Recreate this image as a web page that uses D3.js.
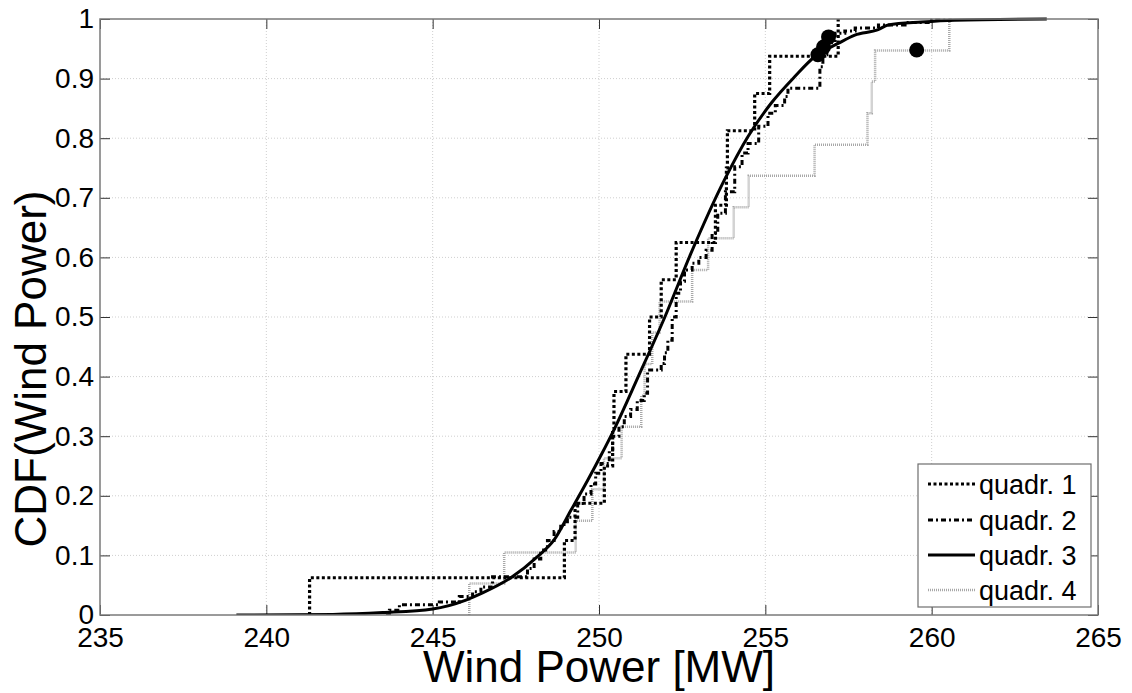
<!DOCTYPE html>
<html>
<head>
<meta charset="utf-8">
<script src="https://cdn.jsdelivr.net/npm/d3@7"></script>
<style>
  html, body { margin: 0; padding: 0; background: #ffffff; }
  svg { display: block; }
  text { font-family: "Liberation Sans", Arial, Helvetica, sans-serif; fill: #000; }
</style>
</head>
<body>
<svg id="chart" width="1132" height="693"></svg>
<script>
// ---------------- data ----------------
const xTicks = [235, 240, 245, 250, 255, 260, 265];
const yTicks = [0, 0.1, 0.2, 0.3, 0.4, 0.5, 0.6, 0.7, 0.8, 0.9, 1];
const yTickLabels = ["0", "0.1", "0.2", "0.3", "0.4", "0.5", "0.6", "0.7", "0.8", "0.9", "1"];
const seriesNames = ["quadr. 1", "quadr. 2", "quadr. 3", "quadr. 4"];

// quadr. 1 : empirical CDF (jump positions and levels)
const q1X = [241.3, 241.3, 248.96, 249.28, 250.16, 250.41, 250.45, 250.81, 251.52, 251.87, 252.32, 253.5, 253.83, 253.86, 254.68, 255.13, 257.19];
const q1Y = [0, 0.0625, 0.125, 0.1875, 0.25, 0.3125, 0.375, 0.4375, 0.5, 0.5625, 0.625, 0.6875, 0.75, 0.8125, 0.875, 0.9375, 1];

// quadr. 2 : empirical CDF (traced)
const q2X = [243.6, 243.7, 244.0, 245.2, 245.8, 246.2, 246.45, 246.8, 247.85, 248.05, 248.25, 248.45, 248.65, 248.85, 249.05, 249.36, 249.55, 249.76, 249.9, 250.06, 250.31, 250.41, 250.6, 250.76, 250.95, 251.15, 251.36, 251.46, 251.87, 251.97, 252.07, 252.2, 252.32, 252.45, 252.57, 252.8, 253.0, 253.22, 253.4, 253.57, 253.8, 254.08, 254.3, 254.48, 254.8, 255.08, 255.3, 255.58, 255.68, 256.64, 256.73, 256.85, 257.1, 257.39, 257.7, 258.4, 259.2, 260.0, 260.6];
const q2Y = [0, 0.008, 0.017, 0.022, 0.031, 0.039, 0.047, 0.064, 0.078, 0.094, 0.109, 0.125, 0.14, 0.152, 0.164, 0.187, 0.203, 0.22, 0.238, 0.254, 0.277, 0.3, 0.316, 0.333, 0.345, 0.36, 0.372, 0.411, 0.422, 0.44, 0.461, 0.5, 0.54, 0.56, 0.579, 0.59, 0.6, 0.612, 0.64, 0.674, 0.71, 0.752, 0.775, 0.791, 0.82, 0.842, 0.855, 0.87, 0.884, 0.92, 0.94, 0.96, 0.976, 0.98, 0.985, 0.99, 0.994, 0.998, 0.998];

// quadr. 3 : fitted CDF (traced)
const q3X = [239.1, 242.0, 243.5, 245.0, 246.0, 246.5, 247.35, 248.15, 248.65, 249.16, 249.66, 250.06, 250.46, 251.18, 251.98, 252.75, 253.77, 254.48, 255.18, 255.88, 256.49, 257.19, 257.69, 258.39, 258.69, 259.7, 260.7, 263.46];
const q3Y = [0, 0.001, 0.004, 0.01, 0.025, 0.037, 0.0625, 0.098, 0.126, 0.176, 0.226, 0.268, 0.312, 0.40, 0.5, 0.605, 0.73, 0.803, 0.859, 0.903, 0.937, 0.959, 0.973, 0.982, 0.99, 0.995, 0.998, 1.0];

// quadr. 4 : empirical CDF (jump positions and levels)
const q4X = [246.1, 246.1, 247.15, 249.3, 249.8, 250.15, 250.68, 251.27, 251.37, 251.6, 251.82, 252.8, 253.28, 254.05, 254.5, 256.48, 258.07, 258.2, 258.3, 260.53];
const q4Y = [0, 0.053, 0.105, 0.158, 0.211, 0.263, 0.316, 0.368, 0.421, 0.474, 0.526, 0.579, 0.632, 0.684, 0.737, 0.789, 0.842, 0.895, 0.947, 1.0];

// highlighted points
const mX = [256.58, 256.75, 256.9, 259.55];
const mY = [0.94, 0.953, 0.97, 0.948];

// ---------------- drawing ----------------
const svg = d3.select("#chart");
const plot = { left: 100, top: 19, right: 1098, bottom: 615 };
const x = d3.scaleLinear().domain([235, 265]).range([plot.left, plot.right]);
const y = d3.scaleLinear().domain([0, 1]).range([plot.bottom, plot.top]);

svg.append("rect").attr("width", 1132).attr("height", 693).attr("fill", "#ffffff");

// grid
const grid = svg.append("g");
grid.selectAll("line.gx").data(xTicks.slice(1, -1)).enter().append("line")
  .attr("x1", d => x(d)).attr("x2", d => x(d))
  .attr("y1", plot.top).attr("y2", plot.bottom)
  .attr("stroke", "#cfcfcf").attr("stroke-width", 1).attr("stroke-dasharray", "1,2");
grid.selectAll("line.gy").data(yTicks.slice(1, -1)).enter().append("line")
  .attr("y1", d => y(d)).attr("y2", d => y(d))
  .attr("x1", plot.left).attr("x2", plot.right)
  .attr("stroke", "#cfcfcf").attr("stroke-width", 1).attr("stroke-dasharray", "1,2");

// axes (ticks inward)
const tickLen = 10;
const xAxis = d3.axisBottom(x).tickValues(xTicks).tickSize(-tickLen).tickPadding(12).tickFormat(d3.format("d"));
const yAxis = d3.axisLeft(y).tickValues(yTicks).tickSize(-tickLen).tickPadding(6).tickFormat((d, i) => yTickLabels[i]);
const xTop = d3.axisTop(x).tickValues(xTicks).tickSize(-tickLen).tickFormat("");
const yRight = d3.axisRight(y).tickValues(yTicks).tickSize(-tickLen).tickFormat("");

function styleAxis(g) {
  g.select(".domain").remove();
  g.selectAll(".tick line").attr("stroke", "#333").attr("stroke-width", 1);
  g.selectAll(".tick text").attr("font-size", 28).attr("font-family", "'Liberation Sans', Arial, sans-serif").attr("fill", "#000");
}
svg.append("g").attr("transform", `translate(0,${plot.bottom})`).call(xAxis).call(styleAxis);
svg.append("g").attr("transform", `translate(${plot.left},0)`).call(yAxis).call(styleAxis);
svg.append("g").attr("transform", `translate(0,${plot.top})`).call(xTop).call(styleAxis);
svg.append("g").attr("transform", `translate(${plot.right},0)`).call(yRight).call(styleAxis);

// clip
svg.append("clipPath").attr("id", "clip").append("rect")
  .attr("x", plot.left).attr("y", plot.top - 2)
  .attr("width", plot.right - plot.left).attr("height", plot.bottom - plot.top + 2);

const layer = svg.append("g").attr("clip-path", "url(#clip)");
const stepLine = d3.line().x(d => x(d[0])).y(d => y(d[1])).curve(d3.curveStepAfter);
const smoothLine = d3.line().x(d => x(d[0])).y(d => y(d[1])).curve(d3.curveMonotoneX);

const styles = [
  { color: "#000", width: 3.2, dash: "3,2.5" },
  { color: "#000", width: 3, dash: "5,3,2,3" },
  { color: "#000", width: 3, dash: null },
  { color: "#a8a8a8", width: 2.5, dash: "1,1" }
];

layer.append("path").datum(d3.zip(q4X, q4Y)).attr("d", stepLine)
  .attr("fill", "none").attr("stroke", styles[3].color).attr("stroke-width", styles[3].width).attr("stroke-dasharray", styles[3].dash);
layer.append("path").datum(d3.zip(q1X, q1Y)).attr("d", stepLine)
  .attr("fill", "none").attr("stroke", styles[0].color).attr("stroke-width", styles[0].width).attr("stroke-dasharray", styles[0].dash);
layer.append("path").datum(d3.zip(q2X, q2Y)).attr("d", stepLine)
  .attr("fill", "none").attr("stroke", styles[1].color).attr("stroke-width", styles[1].width).attr("stroke-dasharray", styles[1].dash);
layer.append("path").datum(d3.zip(q3X, q3Y)).attr("d", smoothLine)
  .attr("fill", "none").attr("stroke", styles[2].color).attr("stroke-width", styles[2].width);

// markers
svg.append("g").selectAll("circle").data(d3.zip(mX, mY)).enter().append("circle")
  .attr("cx", d => x(d[0])).attr("cy", d => y(d[1])).attr("r", 7.5).attr("fill", "#000");

// frame
svg.append("rect").attr("x", plot.left).attr("y", plot.top)
  .attr("width", plot.right - plot.left).attr("height", plot.bottom - plot.top)
  .attr("fill", "none").attr("stroke", "#7a7a7a").attr("stroke-width", 1.5);

// axis labels
svg.append("text").attr("x", 599).attr("y", 682)
  .attr("text-anchor", "middle").attr("font-size", 44).text("Wind Power [MW]");
svg.append("text").attr("transform", `translate(46,369) rotate(-90)`)
  .attr("text-anchor", "middle").attr("font-size", 44).text("CDF(Wind Power)");

// legend
const lg = svg.append("g");
const lgBox = { x: 918, y: 464, w: 173, h: 143 };
lg.append("rect").attr("x", lgBox.x).attr("y", lgBox.y).attr("width", lgBox.w).attr("height", lgBox.h)
  .attr("fill", "#fff").attr("stroke", "#6e6e6e").attr("stroke-width", 1.2);
const rowY = [484, 520, 555, 590];
seriesNames.forEach((name, i) => {
  const s = styles[i];
  const ln = lg.append("line").attr("x1", 928).attr("x2", 975).attr("y1", rowY[i]).attr("y2", rowY[i])
    .attr("stroke", s.color).attr("stroke-width", s.width);
  if (s.dash) ln.attr("stroke-dasharray", s.dash);
  lg.append("text").attr("x", 979).attr("y", rowY[i]).attr("dy", "0.36em")
    .attr("font-size", 27).text(name);
});
</script>
</body>
</html>
